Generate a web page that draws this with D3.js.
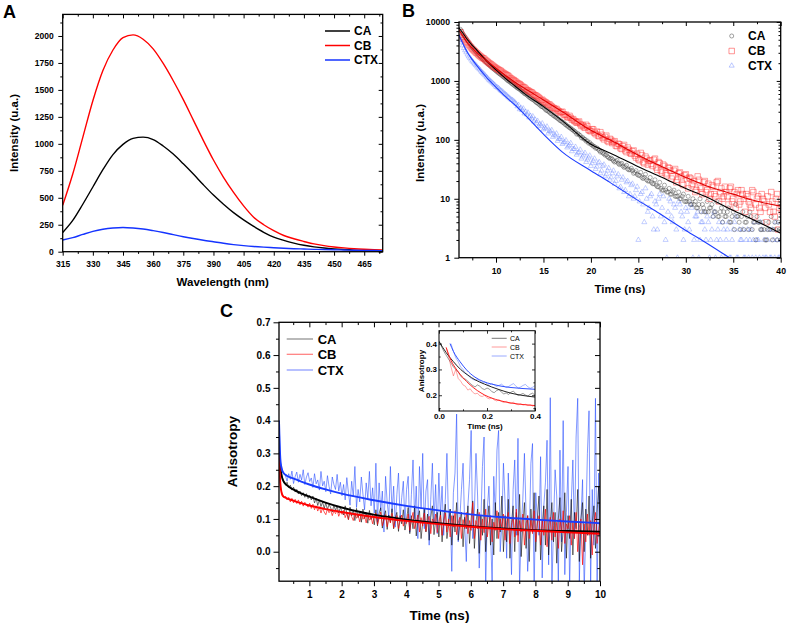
<!DOCTYPE html>
<html><head><meta charset="utf-8">
<script src="https://cdn.jsdelivr.net/npm/d3@7"></script>
<style>body{margin:0;background:#fff}svg{display:block}</style>
</head><body>
<svg id="c" width="787" height="624"></svg>
<script>
// ---------------- DATA ----------------
// Panel A: steady-state emission spectra
const wavelengths = [315,320,325,330,335,340,345,350,355,360,365,370,375,380,385,390,395,400,405,410,415,420,425,430,435,440,445,450,455,460,465,470,474];
const specCA  = [178,290,440,600,760,900,995,1050,1062,1040,980,905,815,720,620,525,440,362,295,235,180,135,105,80,60,45,34,26,20,15,12,10,8];
const specCB  = [430,720,1060,1400,1680,1870,1985,2010,1970,1880,1745,1585,1410,1220,1030,850,690,550,425,320,250,195,150,120,95,72,56,44,35,28,23,19,17];
const specCTX = [108,130,160,188,208,220,225,220,210,195,178,158,139,122,106,92,78,66,56,48,42,37,32,28,25,22,20,18,16,14,12,11,10];
const aXTicks = [315,330,345,360,375,390,405,420,435,450,465];
const aXMinor = [322.5,337.5,352.5,367.5,382.5,397.5,412.5,427.5,442.5,457.5,472.5];
const aYTicks = [0,250,500,750,1000,1250,1500,1750,2000];
const aYMinor = [125,375,625,875,1125,1375,1625,1875,2125];

// Panel B: fluorescence decays (counts; channels every 0.125 ns from 6.25 ns, split in two interleaved sets)
const decayCA = [7500,6300,5500,4800,4200,3700,3350,3000, 2700,2450,2250,2050,1880,1720,1600,1480, 1370,1280,1180,1100,1010,950,880,820,
  760,720,660,610,580,530,495,470, 430,405,370,355,320,305,280,262, 245,230,212,200,185,172,160,150, 140,125,122,108,104,95,88,84,
  78,72,70,62,60,55,52,48, 47,42,45,38,40,34,37,31, 33,27,30,25,28,22,26,20, 23,18,21,16,19,14,17,13, 15,12,14,11,13,10,12,9,
  11,8,10,9,7,10,8,6, 9,7,8,6,9,5,7,6, 5,7,4,6,8,5,3,6, 4,5,6,3,4,5,4,3, 3,2,4,5,3,3,4,2];
const decayCA2 = [7000,5900,5150,4500,3950,3520,3150,2850, 2580,2350,2150,1960,1800,1660,1540,1420, 1320,1230,1140,1050,980,910,850,790,
  740,690,640,600,555,515,485,450, 420,390,365,340,315,295,275,255, 240,222,208,195,180,168,158,146, 136,128,118,110,102,96,90,82,
  77,73,66,64,58,56,50,49, 44,43,40,39,36,35,32,31, 30,28,26,25,23,23,21,20, 19,18,17,16,15,14,14,13, 12,13,11,11,10,11,9,9,
  9,8,8,7,8,6,7,6, 6,7,5,6,5,6,4,5, 6,4,5,3,5,4,5,3, 4,3,5,4,2,4,3,4, 2,3,3,2,4,2,3,3];
const decayCB = [6700,5600,4950,4400,3900,3500,3200,2950, 2700,2500,2380,2180,2020,1900,1760,1650, 1560,1480,1370,1300,1230,1120,1050,990,
  920,880,800,770,700,665,640,585, 560,520,470,455,430,395,380,350, 330,315,290,300,262,245,255,220, 210,195,205,172,165,180,148,140,
  150,125,118,135,108,112,96,104, 88,95,78,84,70,82,62,68, 58,66,50,47,60,42,52,38, 45,36,48,31,40,28,36,25, 33,22,30,19,27,24,17,26,
  15,22,18,13,24,16,12,20, 14,10,17,12,19,9,15,11, 13,8,16,10,7,14,9,12, 6,11,8,14,5,10,7,12, 9,4,8,13,6,10,3,8];
const decayCB2 = [6100,5250,4650,4150,3700,3350,3050,2820, 2600,2430,2260,2100,1960,1830,1700,1600, 1510,1420,1330,1250,1180,1090,1030,960,
  900,845,790,735,690,650,610,570, 540,500,480,440,415,400,365,345, 335,305,295,272,268,240,236,225, 205,198,185,178,160,170,142,152,
  132,138,115,122,102,118,92,100, 92,80,86,72,78,66,74,60, 64,54,58,45,55,40,48,44, 39,46,34,42,30,38,27,34, 30,24,32,21,28,18,25,22,
  23,17,20,14,21,15,19,13, 18,12,16,11,20,13,10,16, 11,15,9,13,12,8,14,10, 12,9,7,13,8,11,6,10, 7,11,6,9,5,12,7,6];
const decayCTX = [5000,4000,3300,2800,2450,2150,1950,1750, 1580,1420,1290,1170,1050,970,890,800, 760,690,640,590,540,500,470,430,
  370,330,320,280,270,240,232,205, 195,170,175,150,155,128,138,112, 118,96,104,85,92,74,82,64, 70,56,62,48,56,42,50,36,
  44,32,40,27,36,24,30,21, 27,18,24,15,21,13,19,11, 17,10,14,2,12,8,15,6, 11,5,9,3,12,7,4,1, 10,5,8,3,9,6,2,7,
  4,8,1,5,6,2,4,3, 5,1,3,6,2,4,1,3, 2,4,1,3,5,1,2,3, 1,3,2,1,4,2,1,3, 2,1,3,1,2,4,1,2];
const decayCTX2 = [4500,3600,3050,2600,2300,2050,1850,1660, 1500,1350,1230,1110,1010,930,850,780, 720,670,610,570,520,480,450,410,
  390,350,340,300,290,255,250,220, 210,185,190,160,168,140,146,122, 128,104,112,90,98,78,88,70, 76,60,68,52,60,46,54,40,
  48,35,42,30,38,26,33,23, 30,20,26,16,23,14,20,12, 18,11,16,9,13,4,10,7, 12,3,8,10,5,11,2,6, 9,4,7,1,8,5,3,6,
  3,7,2,5,1,4,6,2, 4,2,5,1,3,2,4,1, 3,1,2,4,1,3,2,1, 2,1,3,2,1,2,4,1, 1,2,1,3,1,2,1,1];
const fitTimeB = [6.1,6.5,7,7.5,8,9,10,11,12,13,15,17,20,22,25,27,30,32,35,37,40];
const fitCA_B  = [8000,6500,5000,4000,3300,2200,1540,1100,820,610,366,210,84,60,35,25,15,11,6.3,4.5,2.6];
const fitCB_B  = [7300,5800,4400,3600,3000,2200,1640,1240,950,750,475,300,145,100,55,38,23,17,12,9.5,7.5];
const fitCTX_B = [6000,4300,3000,2300,1800,1150,780,540,390,270,125,62,30,19,9.3,5.9,2.9,1.85,0.91,0.57,0.28];
const bXTicks = [10,15,20,25,30,35,40];
const bXMinor = [7.5,12.5,17.5,22.5,27.5,32.5,37.5];
const bYTicks = [1,10,100,1000,10000];
const bYMinor = [2,3,4,5,6,7,8,9,20,30,40,50,60,70,80,90,200,300,400,500,600,700,800,900,2000,3000,4000,5000,6000,7000,8000,9000];

// Panel C: anisotropy decays (0.05 ns steps from 0.06 ns)
const anisCTX = [0.40,0.27,0.25,0.24,0.232,0.215,0.238,0.221,0.246,0.208,0.229,0.243,0.212,0.236,0.219,0.25,0.205,0.228,0.241,0.214,
  0.225,0.196,0.238,0.207,0.219,0.188,0.245,0.201,0.215,0.183,0.232,0.199,0.176,0.228,0.205,0.19,0.236,0.185,0.212,0.171,
  0.205,0.158,0.226,0.18,0.142,0.215,0.168,0.26,0.135,0.19,0.152,0.228,0.175,0.128,0.21,0.162,0.245,0.14,0.195,0.118,
  0.27,0.09,0.21,0.125,0.185,0.06,0.23,0.15,0.105,0.26,0.12,0.2,0.075,0.175,0.24,0.1,0.165,0.215,0.085,0.19,
  0.23,0.06,0.175,0.28,0.1,0.2,0.04,0.26,0.13,0.3,0.07,0.185,0.22,0.02,0.16,0.27,0.09,0.205,0.055,0.24,
  0.11,0.2,0.05,0.16,0.3,0.09,0.13,-0.06,0.18,0.24,0.42,0.03,0.1,0.19,0.27,0.08,-0.03,0.14,0.22,0.37,
  0.04,0.12,0.3,0.17,-0.05,0.09,0.26,0.35,-0.12,0.13,0.2,0.06,-0.1,0.23,0.11,0.31,0.37,0.0,0.08,0.27,
  0.15,-0.02,0.24,0.1,-0.07,0.19,0.28,0.05,0.346,-0.11,0.07,0.16,0.3,0.12,-0.06,0.04,0.27,0.33,-0.13,0.18,
  0.1,0.05,0.29,-0.08,0.14,0.21,0.34,-0.04,0.47,-0.12,0.08,0.25,0.17,-0.1,0.31,0.03,0.4,-0.07,0.12,0.26,
  -0.11,0.15,0.28,0.04,0.35,0.468,-0.09,0.1,0.22,-0.12,0.07,0.3,0.43,-0.1,0.19,0.02,0.468,-0.13,0.24,0.09];
const anisCA = [0.31,0.25,0.228,0.212,0.205,0.212,0.196,0.203,0.188,0.197,0.182,0.19,0.176,0.185,0.171,0.18,0.166,0.177,0.162,0.172,
  0.158,0.17,0.149,0.163,0.141,0.158,0.138,0.152,0.132,0.149,0.128,0.145,0.134,0.121,0.142,0.126,0.139,0.118,0.135,0.124,
  0.112,0.14,0.118,0.098,0.136,0.109,0.128,0.095,0.132,0.104,0.124,0.09,0.13,0.101,0.119,0.087,0.126,0.098,0.115,0.082,
  0.128,0.079,0.117,0.134,0.072,0.105,0.125,0.068,0.112,0.089,0.131,0.07,0.102,0.12,0.062,0.11,0.085,0.128,0.066,0.098,
  0.135,0.055,0.11,0.07,0.14,0.048,0.1,0.125,0.04,0.09,0.13,0.06,0.115,0.035,0.105,0.14,0.052,0.095,0.12,0.045,
  0.125,0.03,0.1,0.145,0.04,0.08,0.13,0.02,0.11,0.06,0.15,0.035,0.09,0.12,0.015,0.105,0.07,0.14,0.025,0.1,
  0.155,0.01,0.09,0.13,-0.005,0.11,0.05,0.16,0.0,0.085,0.14,0.02,0.1,-0.01,0.15,0.04,0.12,0.06,0.17,0.0,
  0.11,0.03,0.16,-0.02,0.09,0.14,0.0,0.12,0.05,0.175,-0.015,0.08,0.15,0.01,0.11,-0.03,0.13,0.06,0.18,0.0,
  0.1,0.17,-0.025,0.08,0.14,0.02,0.19,-0.01,0.09,0.15,0.03,0.12,-0.035,0.1,0.165,0.0,0.07,0.18,-0.02,0.11,
  0.04,0.16,-0.01,0.12,0.07,0.19,-0.03,0.1,0.15,0.0,0.13,0.05,0.17,-0.02,0.09,0.14,0.01,0.12,0.2,0.06];
const anisCB = [0.3,0.2,0.172,0.165,0.17,0.158,0.166,0.152,0.163,0.149,0.16,0.147,0.158,0.143,0.154,0.139,0.151,0.142,0.136,0.148,
  0.132,0.145,0.128,0.14,0.124,0.137,0.118,0.134,0.121,0.113,0.131,0.119,0.127,0.11,0.125,0.116,0.128,0.108,0.122,0.114,
  0.126,0.104,0.118,0.098,0.121,0.107,0.095,0.119,0.102,0.112,0.091,0.116,0.099,0.108,0.088,0.114,0.096,0.105,0.085,0.11,
  0.118,0.083,0.102,0.121,0.079,0.097,0.113,0.076,0.106,0.088,0.117,0.072,0.099,0.11,0.07,0.094,0.112,0.078,0.101,0.086,
  0.115,0.065,0.098,0.12,0.07,0.09,0.112,0.06,0.104,0.078,0.118,0.062,0.095,0.108,0.055,0.1,0.085,0.115,0.058,0.092,
  0.112,0.05,0.09,0.118,0.06,0.1,0.045,0.11,0.075,0.125,0.052,0.088,0.105,0.04,0.098,0.07,0.12,0.055,0.095,0.065,
  0.15,0.04,0.095,0.07,0.12,0.035,0.1,0.058,0.13,0.045,0.085,0.11,0.03,0.09,0.065,0.125,0.04,0.1,0.075,0.115,
  0.035,0.09,0.12,0.025,0.08,0.105,0.045,0.13,0.03,0.095,0.06,0.115,0.02,0.085,0.11,0.04,0.1,0.055,0.125,0.03,
  0.085,0.11,0.02,0.095,0.05,0.13,0.015,0.08,0.105,0.035,0.12,0.045,0.09,0.01,0.1,0.06,0.125,0.025,0.085,0.07,
  0.11,0.02,0.09,0.04,0.12,0.0,0.075,0.1,-0.04,0.085,0.03,0.115,0.05,0.095,-0.01,0.08,0.12,0.025,0.07,0.1];
const fitTimeC = [0.06,0.08,0.1,0.13,0.16,0.2,0.3,0.5,0.75,1,1.5,2,3,4,5,6,7,8,9,10];
const fitCA_C  = [0.31,0.28,0.258,0.238,0.225,0.215,0.203,0.19,0.178,0.168,0.15,0.135,0.113,0.098,0.087,0.078,0.071,0.066,0.063,0.061];
const fitCB_C  = [0.30,0.25,0.21,0.185,0.174,0.168,0.163,0.156,0.148,0.141,0.13,0.121,0.106,0.094,0.084,0.076,0.069,0.064,0.059,0.055];
const fitCTX_C = [0.40,0.33,0.285,0.26,0.248,0.24,0.232,0.224,0.214,0.205,0.19,0.177,0.157,0.14,0.126,0.114,0.105,0.098,0.092,0.087];
const cXTicks = [1,2,3,4,5,6,7,8,9,10];
const cXMinor = [0.5,1.5,2.5,3.5,4.5,5.5,6.5,7.5,8.5,9.5];
const cYTicks = [0,0.1,0.2,0.3,0.4,0.5,0.6,0.7];
const cYMinor = [-0.05,0.05,0.15,0.25,0.35,0.45,0.55,0.65];

// Inset (0-0.4 ns, 0.01 ns steps)
const insetCA  = [0.41,0.39,0.37,0.355,0.34,0.325,0.31,0.3,0.29,0.275,0.265,0.262,0.255,0.245,0.238,0.232,0.24,0.235,0.226,0.222,0.228,0.224,0.214,0.21,0.218,0.222,0.212,0.205,0.209,0.203,0.212,0.216,0.206,0.199,0.203,0.207,0.201,0.197,0.204,0.208,0.2];
const insetCB  = [0.385,0.35,0.31,0.275,0.3,0.265,0.255,0.24,0.235,0.22,0.225,0.212,0.205,0.208,0.198,0.195,0.2,0.19,0.186,0.19,0.182,0.178,0.183,0.176,0.172,0.177,0.17,0.168,0.173,0.166,0.163,0.167,0.162,0.165,0.16,0.163,0.158,0.161];
const insetCTX = [0.4,0.37,0.345,0.33,0.31,0.3,0.285,0.28,0.268,0.262,0.258,0.262,0.255,0.248,0.252,0.244,0.238,0.246,0.24,0.234,0.238,0.243,0.236,0.23,0.234,0.24,0.245,0.236,0.228,0.232,0.238,0.242,0.233,0.227,0.231,0.237];
const insetFitT_CA = [0,0.03,0.06,0.09,0.12,0.15,0.19,0.25,0.3,0.35,0.4];
const insetFitCA   = [0.408,0.365,0.33,0.3,0.278,0.26,0.243,0.222,0.208,0.199,0.193];
const insetFitT_CB = [0.03,0.05,0.075,0.1,0.13,0.16,0.19,0.25,0.3,0.35,0.4];
const insetFitCB   = [0.385,0.335,0.297,0.268,0.24,0.218,0.201,0.18,0.17,0.164,0.16];
const insetFitT_CTX = [0.046,0.06,0.0875,0.115,0.15,0.185,0.22,0.254,0.3,0.35,0.4];
const insetFitCTX   = [0.40,0.37,0.33,0.298,0.27,0.253,0.243,0.236,0.23,0.226,0.223];
const inXTicks = [0,0.2,0.4], inXMinor = [0.1,0.3];
const inYTicks = [0.2,0.3,0.4], inYMinor = [0.15,0.25,0.35];

const seriesNames = ["CA","CB","CTX"];

// ---------------- DRAWING ----------------
const FONT = '"Liberation Sans", Arial, Helvetica, sans-serif';
const svg = d3.select("#c");
const zip = (t, v) => t.map((d, i) => [d, v[i]]);
const grid = (start, step, n) => d3.range(n).map(i => +(start + step * i).toFixed(4));

function txt(g, x, y, s, size, o = {}) {
  const t = g.append("text").attr("x", x).attr("y", y).text(s)
    .attr("font-family", FONT).attr("font-size", size).attr("font-weight", o.weight || "bold")
    .attr("fill", "#000").attr("text-anchor", o.anchor || "start").attr("dominant-baseline", "central");
  if (o.rotate) t.attr("transform", `rotate(-90,${x},${y})`);
  return t;
}

function axisSet(g, x, y, c) {
  const [xL, xR] = x.range(), [yB, yT] = y.range();
  const none = () => "";
  function put(axis, tr, vals, size, fmt, pad) {
    const a = g.append("g").attr("transform", tr)
      .call(axis.tickValues(vals).tickSize(size).tickSizeOuter(0).tickPadding(pad).tickFormat(fmt));
    a.select(".domain").remove();
    a.selectAll("line").attr("stroke", "#000").attr("stroke-width", c.tw || 1);
    a.selectAll("text").attr("font-family", FONT).attr("font-weight", "bold").attr("font-size", c.fs).attr("fill", "#000");
  }
  put(d3.axisBottom(x), `translate(0,${yB})`, c.xMaj, c.xs, c.xFmt, c.xpad);
  put(d3.axisBottom(x), `translate(0,${yB})`, c.xMin, c.xs * 0.55, none, 0);
  put(d3.axisLeft(y), `translate(${xL},0)`, c.yMaj, c.ys, c.yFmt, c.ypad);
  put(d3.axisLeft(y), `translate(${xL},0)`, c.yMin, c.ys * 0.55, none, 0);
  put(d3.axisTop(x), `translate(0,${yT})`, c.xMaj, c.ts, none, 0);
  put(d3.axisTop(x), `translate(0,${yT})`, c.xMin, c.ts * 0.55, none, 0);
  put(d3.axisRight(y), `translate(${xR},0)`, c.yMaj, c.ts, none, 0);
  put(d3.axisRight(y), `translate(${xR},0)`, c.yMin, c.ts * 0.55, none, 0);
  g.append("rect").attr("x", xL).attr("y", yT).attr("width", xR - xL).attr("height", yB - yT)
    .attr("fill", "none").attr("stroke", "#000").attr("stroke-width", c.fw || 1.3);
}

function clip(id, x, y) {
  const [xL, xR] = x.range(), [yB, yT] = y.range();
  svg.append("clipPath").attr("id", id).append("rect").attr("x", xL).attr("y", yT).attr("width", xR - xL).attr("height", yB - yT);
  return svg.append("g").attr("clip-path", `url(#${id})`);
}

// ===== Panel A =====
{
  const x = d3.scaleLinear().domain([315, 474.2]).range([62.7, 382.7]);
  const y = d3.scaleLinear().domain([0, 2200]).range([251.7, 14.4]);
  const g = clip("clipA", x, y);
  const line = d3.line().x(d => x(d[0])).y(d => y(d[1])).curve(d3.curveMonotoneX);
  const cols = ["#000000", "#ff0000", "#1433ff"];
  [specCA, specCB, specCTX].forEach((s, i) => {
    g.append("path").attr("d", line(zip(wavelengths, s))).attr("fill", "none").attr("stroke", cols[i]).attr("stroke-width", 1.4);
  });
  const ax = svg.append("g");
  axisSet(ax, x, y, { xMaj: aXTicks, xMin: aXMinor, yMaj: aYTicks, yMin: aYMinor, xs: 4, ys: 4.4, ts: -4, xpad: 5, ypad: 4.6,
    xFmt: d3.format("d"), yFmt: d3.format("d"), fs: 8.5 });
  txt(svg, 222.7, 281.7, "Wavelength (nm)", 11.5, { anchor: "middle" });
  txt(svg, 14, 133, "Intensity (u.a.)", 11.5, { anchor: "middle", rotate: true });
  const leg = svg.append("g");
  seriesNames.forEach((n, i) => {
    const yy = [31, 45.5, 60][i];
    leg.append("line").attr("x1", 325).attr("x2", 350).attr("y1", yy).attr("y2", yy).attr("stroke", cols[i]).attr("stroke-width", 1.5);
    txt(leg, 354, yy, n, 12);
  });
  txt(svg, 3, 12, "A", 18);
}

// ===== Panel B =====
{
  const x = d3.scaleLinear().domain([6.1, 40]).range([459, 780.7]);
  const y = d3.scaleLog().domain([1, 10000]).range([257.7, 22]);
  const g = clip("clipB", x, y);
  const tB1 = grid(6.25, 0.25, decayCA.length);
  const tB2 = grid(6.375, 0.25, decayCA2.length);
  const specs = [
    { sets: [decayCTX, decayCTX2], type: d3.symbolTriangle, size: 11, col: "#5a78ff", op: 0.5 },
    { sets: [decayCA, decayCA2], type: d3.symbolCircle, size: 13, col: "#3a3a3a", op: 0.6 },
    { sets: [decayCB, decayCB2], type: d3.symbolSquare, size: 30, col: "#ff2020", op: 0.6 }
  ];
  specs.forEach(s => {
    const pts = zip(tB1, s.sets[0]).concat(zip(tB2, s.sets[1]));
    g.append("g").selectAll("path").data(pts).join("path")
      .attr("transform", d => `translate(${x(d[0])},${y(d[1])})`)
      .attr("d", d3.symbol().type(s.type).size(s.size))
      .attr("fill", "none").attr("stroke", s.col).attr("stroke-width", 0.7).attr("opacity", s.op);
  });
  const line = d3.line().x(d => x(d[0])).y(d => y(d[1])).curve(d3.curveMonotoneX);
  [[fitCTX_B, "#1f3fff"], [fitCA_B, "#000"], [fitCB_B, "#e00000"]].forEach(([s, c]) => {
    g.append("path").attr("d", line(zip(fitTimeB, s))).attr("fill", "none").attr("stroke", c).attr("stroke-width", 1.1);
  });
  const ax = svg.append("g");
  axisSet(ax, x, y, { xMaj: bXTicks, xMin: bXMinor, yMaj: bYTicks, yMin: bYMinor, xs: 5, ys: 4.7, ts: -4, xpad: 5, ypad: 4.3,
    xFmt: d3.format("d"), yFmt: d3.format("d"), fs: 8.7 });
  txt(svg, 620, 289, "Time (ns)", 11.5, { anchor: "middle" });
  txt(svg, 420, 143, "Intensity (u.a.)", 11.5, { anchor: "middle", rotate: true });
  const leg = svg.append("g");
  const lspec = [specs[1], specs[2], specs[0]];
  seriesNames.forEach((n, i) => {
    const yy = [36, 51, 65.7][i];
    const s = lspec[i];
    leg.append("path").attr("transform", `translate(731.7,${yy})`).attr("d", d3.symbol().type(s.type).size(s.size))
      .attr("fill", "none").attr("stroke", s.col).attr("stroke-width", 0.8).attr("opacity", s.op);
    txt(leg, 748, yy, n, 12);
  });
  txt(svg, 402, 11, "B", 18);
}

// ===== Panel C =====
{
  const x = d3.scaleLinear().domain([0.06, 10]).range([279, 600]);
  const y = d3.scaleLinear().domain([-0.09, 0.7]).range([581.2, 322.3]);
  const g = clip("clipC", x, y);
  const tC = grid(0.06, 0.05, anisCA.length);
  const raw = d3.line().x(d => x(d[0])).y(d => y(d[1]));
  [[anisCTX, "rgba(30,70,255,0.55)"], [anisCA, "rgba(0,0,0,0.55)"], [anisCB, "rgba(255,0,0,0.65)"]].forEach(([s, c]) => {
    g.append("path").attr("d", raw(zip(tC, s))).attr("fill", "none").attr("stroke", c).attr("stroke-width", 1);
  });
  const fit = d3.line().x(d => x(d[0])).y(d => y(d[1])).curve(d3.curveMonotoneX);
  [[fitCA_C, "#000"], [fitCB_C, "#ff0000"], [fitCTX_C, "#1a3cff"]].forEach(([s, c]) => {
    g.append("path").attr("d", fit(zip(fitTimeC, s))).attr("fill", "none").attr("stroke", c).attr("stroke-width", 1.9);
  });
  const ax = svg.append("g");
  axisSet(ax, x, y, { xMaj: cXTicks, xMin: cXMinor, yMaj: cYTicks, yMin: cYMinor, xs: 5, ys: 5.5, ts: -5, xpad: 5, ypad: 3,
    xFmt: d3.format("d"), yFmt: d3.format(".1f"), fs: 10 });
  txt(svg, 439.5, 615, "Time (ns)", 13.5, { anchor: "middle" });
  txt(svg, 233, 451.6, "Anisotropy", 13.5, { anchor: "middle", rotate: true });
  const leg = svg.append("g");
  const lc = ["#8a8a8a", "#ff7a7a", "#8797ff"];
  seriesNames.forEach((n, i) => {
    const yy = [339, 354.3, 370][i];
    leg.append("line").attr("x1", 286.7).attr("x2", 313).attr("y1", yy).attr("y2", yy).attr("stroke", lc[i]).attr("stroke-width", 1.2);
    txt(leg, 317.7, yy, n, 13);
  });
  txt(svg, 220, 311, "C", 18);

  // Inset
  const xi = d3.scaleLinear().domain([0, 0.4]).range([439, 535]);
  const yi = d3.scaleLinear().domain([0.139, 0.45]).range([411, 330.7]);
  svg.append("rect").attr("x", 439).attr("y", 330.7).attr("width", 96).attr("height", 80.3).attr("fill", "#fff");
  const gi = clip("clipI", xi, yi);
  const rawI = d3.line().x(d => xi(d[0])).y(d => yi(d[1]));
  [[grid(0, 0.01, insetCA.length), insetCA, "rgba(0,0,0,0.4)"],
   [grid(0.03, 0.01, insetCB.length), insetCB, "rgba(255,0,0,0.35)"],
   [grid(0.05, 0.01, insetCTX.length), insetCTX, "rgba(40,80,255,0.4)"]].forEach(([t, s, c]) => {
    gi.append("path").attr("d", rawI(zip(t, s))).attr("fill", "none").attr("stroke", c).attr("stroke-width", 1);
  });
  const fitI = d3.line().x(d => xi(d[0])).y(d => yi(d[1])).curve(d3.curveMonotoneX);
  [[insetFitT_CA, insetFitCA, "#222"], [insetFitT_CB, insetFitCB, "#ff2020"], [insetFitT_CTX, insetFitCTX, "#3050ff"]].forEach(([t, s, c]) => {
    gi.append("path").attr("d", fitI(zip(t, s))).attr("fill", "none").attr("stroke", c).attr("stroke-width", 1);
  });
  const axi = svg.append("g");
  axisSet(axi, xi, yi, { xMaj: inXTicks, xMin: inXMinor, yMaj: inYTicks, yMin: inYMinor, xs: -3, ys: -3, ts: -3, xpad: 2, ypad: 2,
    xFmt: d3.format(".1f"), yFmt: d3.format(".1f"), fs: 8, fw: 1, tw: 0.8 });
  txt(svg, 485, 426, "Time (ns)", 8, { anchor: "middle" });
  txt(svg, 421, 371, "Anisotropy", 8, { anchor: "middle", rotate: true });
  const legI = svg.append("g");
  const lci = ["#777", "#ff9a9a", "#9aaaff"];
  seriesNames.forEach((n, i) => {
    const yy = [338.3, 347, 356][i];
    legI.append("line").attr("x1", 491.7).attr("x2", 506.7).attr("y1", yy).attr("y2", yy).attr("stroke", lci[i]).attr("stroke-width", 1);
    txt(legI, 510, yy, n, 7, { weight: "normal" });
  });
}
</script>
</body></html>
